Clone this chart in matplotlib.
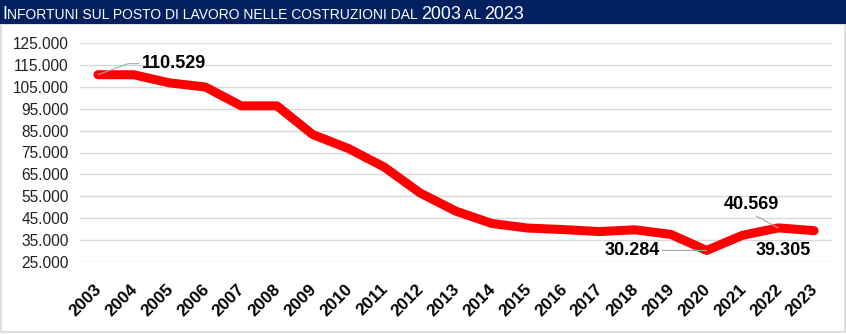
import matplotlib
matplotlib.use("Agg")
import matplotlib.pyplot as plt
from matplotlib import font_manager
from matplotlib.patches import Rectangle
from matplotlib.transforms import ScaledTranslation
from matplotlib.ticker import FuncFormatter

years = [str(y) for y in range(2003, 2024)]
infortuni = [110529, 110500, 106800, 104900, 96300, 96300, 83200, 76800,
             68300, 56500, 48200, 42600, 40500, 39800, 38900, 39700,
             37600, 30284, 37200, 40569, 39305]

# etichette dati mostrate nel grafico
labels = {"2003": "110.529", "2020": "30.284", "2022": "40.569", "2023": "39.305"}

names = {f.name for f in font_manager.fontManager.ttflist}
base_font = "Liberation Sans" if "Liberation Sans" in names else "DejaVu Sans"
narrow_font = "Liberation Sans Narrow" if "Liberation Sans Narrow" in names else base_font
plt.rcParams["font.family"] = base_font

W, H, DPI = 846, 334, 100
fig = plt.figure(figsize=(W / DPI, H / DPI), dpi=DPI)

def px(x, y):
    # pixel (dall'alto a sinistra) -> coordinate figura
    return x / W, 1 - y / H

# cornice e barra del titolo
fig.patches.append(Rectangle(px(1, 332), 844 / W, 308 / H, transform=fig.transFigure,
                             fill=False, edgecolor="#D9D9D9", linewidth=1.2))
fig.patches.append(Rectangle(px(0, 24), 1, 24 / H, transform=fig.transFigure,
                             facecolor="#002060", edgecolor="none"))

# titolo in maiuscoletto
k = 0.89 if narrow_font == base_font else 1.0
pieces = [("I", 14.5 * k), ("NFORTUNI SUL POSTO DI LAVORO NELLE COSTRUZIONI DAL ", 11.2 * k),
          ("2003", 14.5 * k), (" AL ", 11.2 * k), ("2023", 14.5 * k)]
renderer = fig.canvas.get_renderer()
x = 2
for txt, size in pieces:
    t = fig.text(x / W, 1 - 19 / H, txt, fontsize=size, color="white",
                 family=narrow_font, ha="left", va="baseline")
    x += t.get_window_extent(renderer).width

ax = fig.add_axes([80 / W, 1 - 262 / H, 752 / W, 219 / H])
xs = list(range(len(years)))
ax.plot(xs, infortuni, color="#FF0000", linewidth=6.5,
        solid_capstyle="round", solid_joinstyle="round", zorder=3)

ax.set_xlim(-0.5, len(years) - 0.5)
ax.set_ylim(25000, 125000)
ax.set_yticks(range(25000, 125001, 10000))
ax.yaxis.set_major_formatter(FuncFormatter(lambda v, p: f"{int(v):,}".replace(",", ".")))
ax.grid(axis="y", color="#D9D9D9", linewidth=1)
ax.set_axisbelow(True)
for s in ax.spines.values():
    s.set_visible(False)
ax.tick_params(axis="y", length=0, pad=8, labelsize=11.2, labelcolor="#222222")
ax.tick_params(axis="x", length=0, pad=14)
ax.set_xticks(xs)
ax.set_xticklabels(years, rotation=45, ha="right", rotation_mode="anchor",
                   fontsize=12.3, fontweight="bold")
for lab in ax.get_xticklabels():
    lab.set_transform(lab.get_transform() + ScaledTranslation(-0.04, 0, fig.dpi_scale_trans))

# etichette con linee di richiamo
lead = dict(arrowstyle="-", color="#A6A6A6", linewidth=0.8, shrinkA=0, shrinkB=0)
i = years.index("2003")
ax.annotate(labels["2003"], (i, infortuni[i]), xytext=(44, 11), textcoords="offset pixels",
            fontsize=13, fontweight="bold", va="center", ha="left",
            arrowprops=dict(lead, connectionstyle="angle,angleA=0,angleB=20,rad=0",
                            relpos=(0, 0.5)))
i = years.index("2020")
ax.annotate(labels["2020"], (i, infortuni[i]), xytext=(-47, 0), textcoords="offset pixels",
            fontsize=13, fontweight="bold", va="center", ha="right",
            arrowprops=dict(lead, relpos=(1, 0.5)))
i = years.index("2022")
ax.annotate(labels["2022"], (i, infortuni[i]), xytext=(-27, 23), textcoords="offset pixels",
            fontsize=13, fontweight="bold", va="center", ha="center",
            arrowprops=dict(lead, relpos=(0.5, 0)))
i = years.index("2023")
ax.annotate(labels["2023"], (i, infortuni[i]), xytext=(-31, -20), textcoords="offset pixels",
            fontsize=13, fontweight="bold", va="center", ha="center")

fig.savefig("out.png", dpi=DPI)
